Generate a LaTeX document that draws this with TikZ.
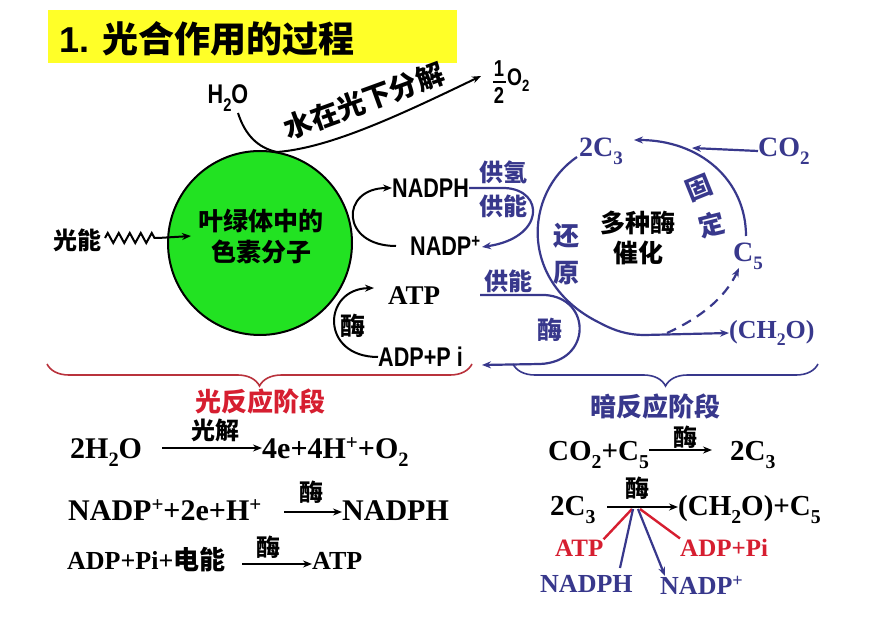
\documentclass[tikz,border=0pt]{standalone}
\usepackage{fontspec}
\usepackage{graphicx}
\setmainfont{Liberation Serif}
\newfontfamily\cjk{Noto Sans CJK SC}
\newfontfamily\nsans[FakeStretch=0.8]{Liberation Sans}
\newfontfamily\asans{Liberation Sans}
\usetikzlibrary{arrows.meta,decorations.pathmorphing,decorations.pathreplacing}
\definecolor{dblue}{RGB}{56,56,140}
\definecolor{cgreen}{RGB}{34,226,34}
\definecolor{tyellow}{RGB}{255,255,40}
\definecolor{tred}{RGB}{214,30,48}
\definecolor{bred}{RGB}{185,50,60}
\newcommand\fsz[1]{\fontsize{#1}{#1}\selectfont}
\newcommand\mysub[1]{\raisebox{-0.28em}{\scalebox{0.68}{#1}}}
\newcommand\mysup[1]{\raisebox{0.3em}{\scalebox{0.7}{#1}}}
\begin{document}
\begin{tikzpicture}[x=1pt,y=-1pt,
  blk/.style={line width=2pt, draw=black},
  blu/.style={line width=2.2pt, draw=dblue},
  tip/.style={-{Stealth[length=9pt,width=7pt]}},
  zh/.style={font={\cjk\bfseries\fsz{#1}}, inner sep=0pt},
  zh/.default=24,
  nar/.style={font={\nsans\bfseries\fsz{27}}, inner sep=0pt},
  ser/.style={font={\bfseries\fsz{#1}}, inner sep=0pt},
  ser/.default=29]
\fill[white] (0,0) rectangle (883,617);
\useasboundingbox (0,0) rectangle (883,617);
% title
\fill[tyellow] (48,10) rectangle (457,63);
\node[anchor=west, inner sep=0pt] (title) at (59,39) {\asans\bfseries\fsz{36}1. {\cjk 光合作用的过程}};
% water splitting
\node[nar] (h2o) at (228,98) {H\mysub{2}O};
\node[inner sep=0pt, font={\nsans\bfseries\fsz{23}}] (half1) at (499,69) {1};
\node[inner sep=0pt, font={\nsans\bfseries\fsz{23}}] (half2) at (499,95) {2};
\draw[line width=1.8pt] (493,82) -- (506,82);
\node[anchor=west, inner sep=0pt, font={\nsans\bfseries\fsz{24}}] (o2) at (507,80) {O\mysub{2}};
\coordinate (ctop) at (277,152);
\coordinate (o2tip) at (481,76);
\draw[blk] (238,113) .. controls (245,135) and (258,148) .. (ctop);
\draw[blk, tip] (ctop) .. controls (330,148) and (400,115) .. (o2tip);
\node[zh=28, rotate=20] (split) at (364,101) {水在光下分解};
% pigment
\node[circle, draw=black, line width=2pt, fill=cgreen, minimum size=184pt, inner sep=0pt] (pig) at (260,243) {};
\node[zh=25, align=center] (pigtxt) at (261,237) {叶绿体中的\\[6pt]色素分子};
\node[zh=24] (light) at (77,240) {光能};
\coordinate (wa) at (105,238);
\coordinate (wb) at (158,238);
\draw[line width=2pt, decorate, decoration={zigzag, amplitude=5pt, segment length=11pt}] (wa) -- (wb);
\draw[blk, tip] (wb) -- (191,236);
% light reaction products
\node[nar, anchor=west] (nadph) at (392,188) {NADPH};
\node[nar, anchor=west] (nadpp) at (410,246) {NADP\mysup{+}};
\node[ser=27, anchor=west] (atp) at (388,296) {ATP};
\node[nar, anchor=west] (adp) at (378,357) {ADP+P i};
\node[zh=25] (enz1) at (353,326) {酶};
\draw[blk, tip] (396,246) .. controls (340,246) and (340,188) .. (nadph.west);
\draw[blk, tip] (adp.west) .. controls (320,357) and (322,289) .. (374,288);
% dark reaction cycle
\node[ser=28, dblue, anchor=west] (c3) at (579,151) {2C\mysub{3}};
\node[ser=28, dblue, anchor=west] (co2) at (758,151) {CO\mysub{2}};
\node[ser=28, dblue, anchor=west] (c5) at (733,256) {C\mysub{5}};
\node[ser=26, dblue, anchor=west] (cho) at (729,333) {(CH\mysub{2}O)};
\draw[blu, tip] (577,157) .. controls (524,193) and (518,283) .. (600,323) .. controls (615,331) and (628,335) .. (645,335) -- (cho.west);
\draw[blu, tip] (746,236) .. controls (746,180) and (700,140) .. (634,140);
\draw[blu, tip] (co2.west) -- (692,148);
\draw[blu, dash pattern=on 10pt off 7pt, tip] (667,333) .. controls (700,318) and (725,298) .. (739,268);
\node[zh=26, dblue, rotate=22] (gu) at (699,188) {固};
\node[zh=26, dblue, rotate=14] (ding) at (712,225) {定};
\node[zh=26, dblue] (huan) at (566,236) {还};
\node[zh=26, dblue] (yuan) at (566,273) {原};
\node[zh=25, align=center] (cat) at (638,238) {多种酶\\[5pt]催化};
\node[zh=24, dblue] (gq) at (503,172) {供氢};
\node[zh=24, dblue] (gn1) at (503,206) {供能};
\node[zh=24, dblue] (gn2) at (508,281) {供能};
\node[zh=25, dblue] (enz2) at (550,330) {酶};
\draw[blu, tip] (nadph.east) -- (505,188) .. controls (545,190) and (545,238) .. (482,247);
\draw[blu, tip] (480,295) -- (545,295) .. controls (592,298) and (592,362) .. (540,364) -- (482,365);
% braces
\draw[bred, line width=1.6pt, decorate, decoration={brace, mirror, amplitude=22pt}] (47,364) -- (472,364);
\draw[dblue, line width=1.6pt, decorate, decoration={brace, mirror, amplitude=22pt}] (513,364) -- (818,364);
\node[zh=26, tred] (lr) at (260,402) {光反应阶段};
\node[zh=26, dblue] (dr) at (655,407) {暗反应阶段};
% light reaction equations
\node[ser=30, anchor=base west] (e1a) at (70,458) {2H\mysub{2}O};
\node[ser=30, anchor=base west] (e1b) at (262,458) {4e+4H\mysup{+}+O\mysub{2}};
\draw[line width=2.4pt, tip] (162,448) -- (e1b.west |- 0,448);
\node[zh=24] (g1) at (215,430) {光解};
\node[ser=30, anchor=base west] (e2a) at (68,520) {NADP\mysup{+}+2e+H\mysup{+}};
\node[ser=30, anchor=base west] (e2b) at (342,520) {NADPH};
\draw[line width=2.4pt, tip] (284,512) -- (e2b.west |- 0,512);
\node[zh=24] (g2) at (311,492) {酶};
\node[anchor=base west, inner sep=0pt] (e3a) at (67,569) {\bfseries\fsz{26}ADP+Pi+{\cjk 电能}};
\node[ser=26, anchor=base west] (e3b) at (312,569) {ATP};
\draw[line width=2.4pt, tip] (242,564) -- (e3b.west |- 0,564);
\node[zh=24] (g3) at (268,547) {酶};
% dark reaction equations
\node[ser=29, anchor=base west] (f1a) at (548,460) {CO\mysub{2}+C\mysub{5}};
\node[ser=29, anchor=base west] (f1b) at (730,460) {2C\mysub{3}};
\draw[line width=2.4pt, tip] (f1a.east |- 0,450) -- (712,450);
\node[zh=24] (h1) at (685,437) {酶};
\node[ser=29, anchor=base west] (f2a) at (550,515) {2C\mysub{3}};
\node[ser=29, anchor=base west] (f2b) at (678,515) {(CH\mysub{2}O)+C\mysub{5}};
\draw[line width=2.4pt, tip] (607,507) -- (f2b.west |- 0,507);
\node[zh=24] (h2) at (637,488) {酶};
\coordinate (jn) at (636,509);
\node[ser=25, tred, anchor=base west] (ratp) at (555,556) {ATP};
\node[ser=25, tred, anchor=base west] (radp) at (680,556) {ADP+Pi};
\node[ser=26, dblue, anchor=base west] (bnadph) at (540,592) {NADPH};
\node[ser=26, dblue, anchor=base west] (bnadp) at (660,594) {NADP\mysup{+}};
\draw[tred, line width=2.4pt] (ratp.north east) -- (632,509);
\draw[tred, line width=2.4pt] (640,509) -- (radp.north west);
\draw[dblue, line width=2.2pt] (620,568) -- (633,509);
\draw[dblue, line width=2.2pt, tip] (638,509) -- (665,576);
\end{tikzpicture}
\end{document}
